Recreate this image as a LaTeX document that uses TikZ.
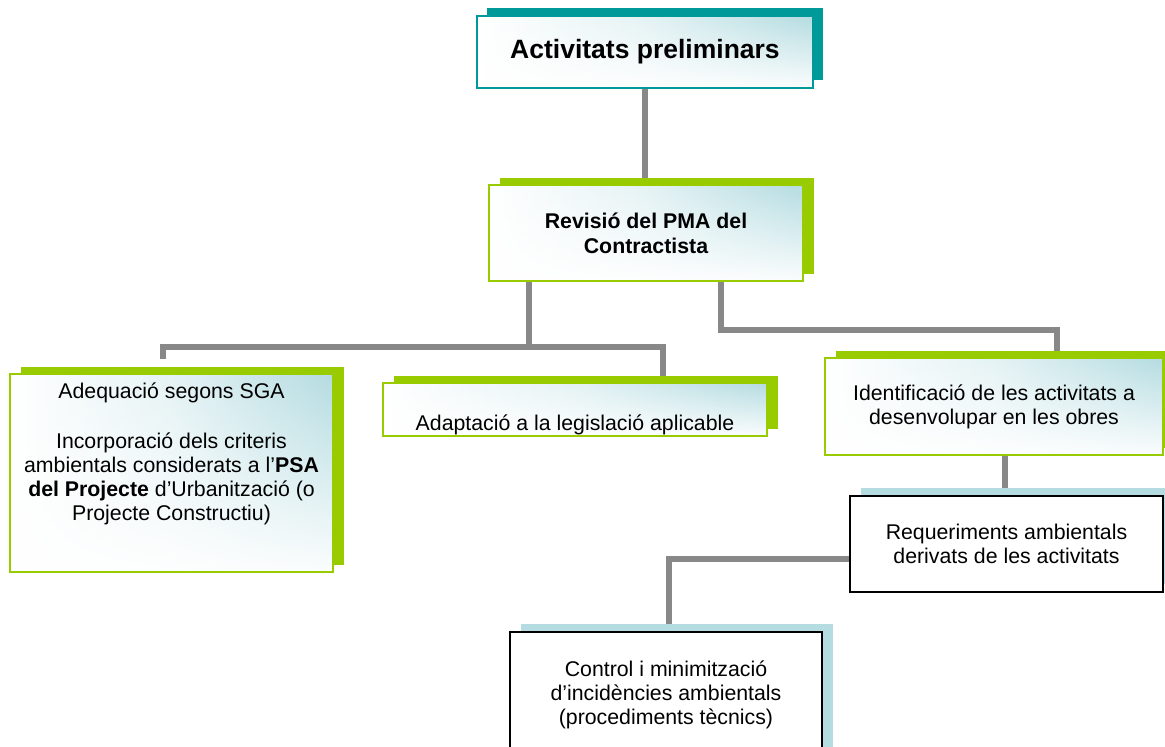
\documentclass[tikz,border=0pt]{standalone}
\usepackage{fontspec}
\setmainfont{Liberation Sans}
\usepackage{tikz}
\usetikzlibrary{positioning,shadows,backgrounds,fadings}
\definecolor{tealA}{RGB}{0,153,153}
\definecolor{greenA}{RGB}{153,204,0}
\definecolor{blueA}{RGB}{180,220,225}
\definecolor{grayA}{RGB}{136,136,136}
\tikzfading[name=whitedown, top color=transparent!100, middle color=transparent!70, bottom color=transparent!5]
\tikzstyle{box}      = [rectangle, align=center, font=\fontsize{21.3}{24}\selectfont, left color=white, right color=blueA, middle color=white!65!blueA, postaction={fill=white, path fading=whitedown}]
\tikzstyle{tealbox}  = [box, line width=1.5pt, postaction={draw=tealA, line width=1.5pt}, general shadow={fill=tealA, shadow xshift=10pt, shadow yshift=8pt}]
\tikzstyle{greenbox} = [box, line width=1.5pt, postaction={draw=greenA, line width=1.5pt}, general shadow={fill=greenA, shadow xshift=11pt, shadow yshift=7pt}]
\tikzstyle{bluebox}  = [rectangle, align=center, font=\fontsize{21.3}{24}\selectfont, draw=black, line width=1.5pt, fill=white, general shadow={fill=blueA, shadow xshift=11pt, shadow yshift=8pt}]
\tikzstyle{link}     = [line width=6pt, draw=grayA]

\begin{document}
\begin{tikzpicture}[x=1pt,y=-1pt]
	\useasboundingbox (0,0) rectangle (1165,747);

	\node[tealbox, minimum width=336pt, minimum height=72pt, font=\fontsize{26.5}{30}\selectfont\bfseries] (act) at (645,52) {Activitats preliminars};
	\node[greenbox, minimum width=314pt, minimum height=96pt, font=\fontsize{21.3}{25}\selectfont\bfseries] (rev) at (646,233) {Revisió del PMA del\\Contractista};

	\node[greenbox, minimum width=323pt, minimum height=198pt] (ade) at (171.5,473) {\parbox[c][180pt][t]{316pt}{\centering Adequació segons SGA\\[26pt]Incorporació dels criteris\\ambientals considerats a l’\textbf{PSA}\\\textbf{del Projecte} d’Urbanització (o\\Projecte Constructiu)}};
	\node[greenbox, minimum width=384pt, minimum height=53pt, inner ysep=1pt, text height=46pt, text depth=4pt] (ada) at (575,409.5) {Adaptació a la legislació aplicable};
	\node[greenbox, minimum width=338pt, minimum height=97pt] (ide) at (994,406.5) {Identificació de les activitats a\\desenvolupar en les obres};

	\node[bluebox, minimum width=313pt, minimum height=96pt] (req) at (1006.5,544) {Requeriments ambientals\\derivats de les activitats};
	\node[bluebox, minimum width=312pt, minimum height=125pt] (ctl) at (666,694.5) {Control i minimització\\d’incidències ambientals\\(procediments tècnics)};

	\begin{scope}[on background layer]
		\coordinate (revL) at (529,347);
		\coordinate (revR) at (721,330);
		\coordinate (adeT) at (163,359);
		\draw[link] (act) -- (act |- rev.north);
		\draw[link] (rev.south -| revL) -- (revL);
		\draw[link] (adeT) |- (revL) -| ([xshift=88pt]ada.north);
		\draw[link] (rev.south -| revR) -- (revR) -| ([xshift=63pt]ide.north);
		\draw[link] ([xshift=11pt]ide.south) -- ([xshift=11pt]ide.south |- req.north);
		\draw[link] ([yshift=-15pt]req.west) -| ([xshift=3pt]ctl.north);
	\end{scope}
\end{tikzpicture}
\end{document}
